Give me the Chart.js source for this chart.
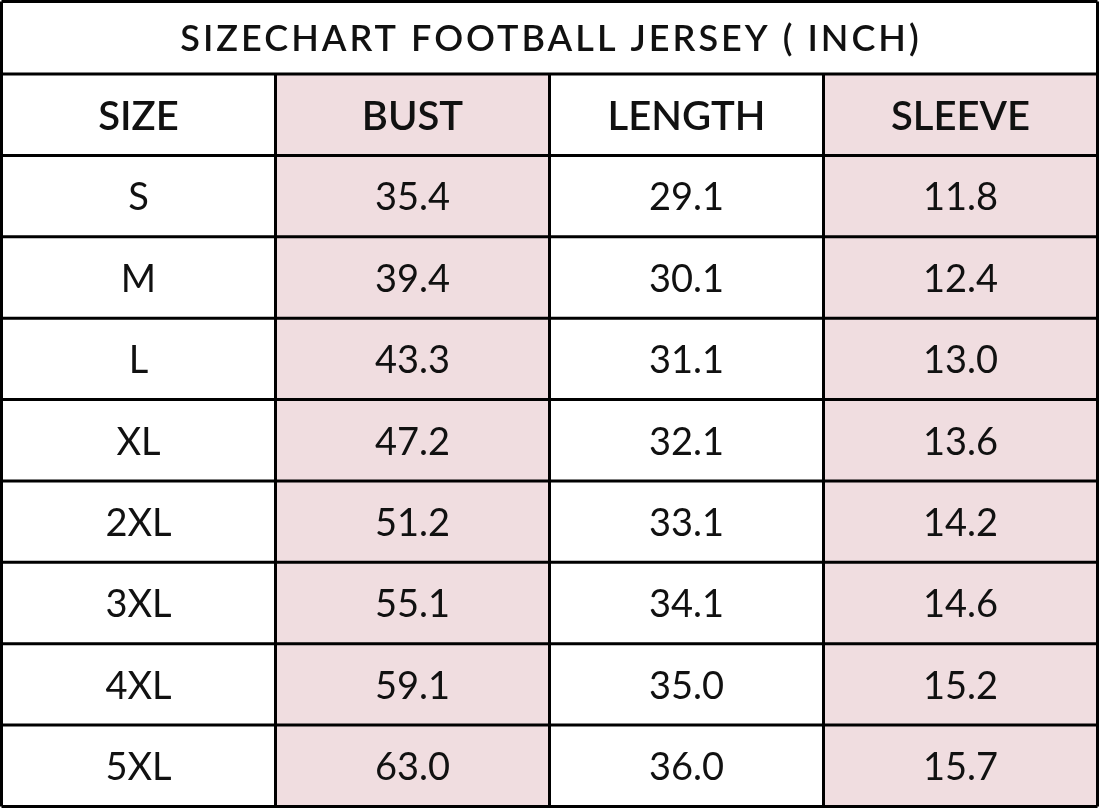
<!DOCTYPE html>
<html><head><meta charset="utf-8">
<script src="https://cdn.jsdelivr.net/npm/chart.js@4"></script>
<style>html,body{margin:0;padding:0;background:#fff}#w{width:1100px;height:809px}</style>
</head><body><div id="w"><canvas id="c"></canvas></div>
<script>
const title = 'SIZECHART FOOTBALL JERSEY ( INCH)';
const columns = ['SIZE','BUST','LENGTH','SLEEVE'];
const sizes = ['S','M','L','XL','2XL','3XL','4XL','5XL'];
const bust = [35.4,39.4,43.3,47.2,51.2,55.1,59.1,63.0];
const length = [29.1,30.1,31.1,32.1,33.1,34.1,35.0,36.0];
const sleeve = [11.8,12.4,13.0,13.6,14.2,14.6,15.2,15.7];
const rows = ['SIZE'].concat(sizes);
const colVals = [sizes, bust.map(v=>v.toFixed(1)), length.map(v=>v.toFixed(1)), sleeve.map(v=>v.toFixed(1))];
const colColors = ['#ffffff','#f0dde0','#ffffff','#f0dde0'];
const FONT = 'Lato, "Noto Sans", sans-serif';

const tablePlugin = {
  id:'table',
  beforeDraw(chart){const ctx=chart.ctx;ctx.save();ctx.fillStyle='#fff';ctx.fillRect(0,0,chart.width,chart.height);ctx.restore();},
  afterDatasetsDraw(chart){
    const ctx=chart.ctx, xs=chart.scales.x, ca=chart.chartArea;
    const rowH=(ca.bottom-ca.top)/rows.length;
    ctx.save();
    ctx.strokeStyle='#000';ctx.lineWidth=3;
    ctx.beginPath();
    ctx.moveTo(ca.left,1.5);ctx.lineTo(ca.right,1.5);
    ctx.moveTo(ca.left,1.5);ctx.lineTo(ca.left,ca.top);
    ctx.moveTo(ca.right,1.5);ctx.lineTo(ca.right,ca.top);
    for(let i=0;i<=rows.length;i++){const y=ca.top+rowH*i;ctx.moveTo(ca.left,y);ctx.lineTo(ca.right,y);}
    for(let c=0;c<=columns.length;c++){const x=xs.getPixelForValue(c);ctx.moveTo(x,ca.top);ctx.lineTo(x,ca.bottom);}
    ctx.stroke();
    ctx.fillStyle='#111';ctx.textAlign='center';ctx.textBaseline='middle';
    ctx.font='600 36px '+FONT;
    ctx.letterSpacing='3px';
    ctx.fillText(title,(ca.left+ca.right)/2+1.5,ca.top/2+2);
    ctx.letterSpacing='0px';
    for(let c=0;c<columns.length;c++){
      const x=xs.getPixelForValue(c+0.5);
      ctx.font='600 40px '+FONT;
      ctx.fillText(columns[c],x,ca.top+rowH*0.5+2);
      ctx.font='400 38px '+FONT;
      colVals[c].forEach((t,r)=>ctx.fillText(t,x,ca.top+rowH*(r+1.5)+2));
    }
    ctx.restore();
  }
};

new Chart(document.getElementById('c'),{
  type:'bar',
  data:{labels:rows,datasets:columns.map((col,c)=>({
    label:col,
    data:rows.map(()=>[c,c+1]),
    backgroundColor:colColors[c],borderWidth:0,
    categoryPercentage:1,barPercentage:1,grouped:false
  }))},
  options:{
    indexAxis:'y',responsive:true,maintainAspectRatio:false,animation:false,
    layout:{padding:{left:1.5,right:2.5,bottom:2.5,top:0}},
    scales:{
      x:{type:'linear',min:0,max:columns.length,display:false},
      y:{type:'category',display:false}
    },
    plugins:{
      legend:{display:false},tooltip:{enabled:false},
      title:{display:true,text:title,color:'rgba(0,0,0,0)',font:{family:FONT,size:35,weight:'500'},padding:{top:15,bottom:17}}
    }
  },
  plugins:[tablePlugin]
});
</script></body></html>
